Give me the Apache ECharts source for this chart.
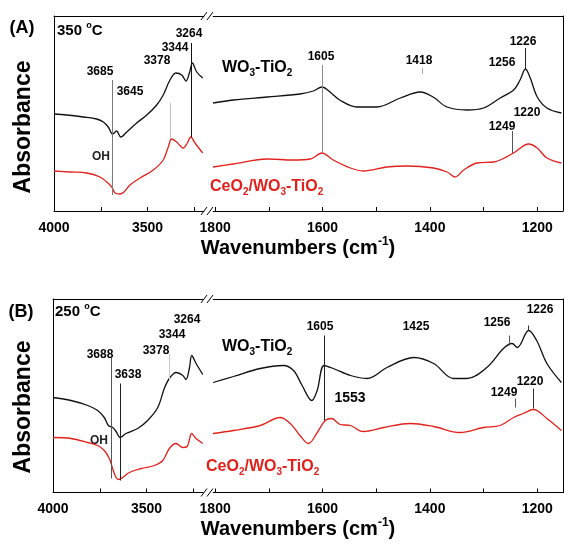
<!DOCTYPE html>
<html><head><meta charset="utf-8">
<script src="https://cdn.jsdelivr.net/npm/echarts@6/dist/echarts.min.js"></script>
<style>html,body{margin:0;padding:0;background:#fff}#c{width:564px;height:546px}</style>
</head><body><div id="c"></div>
<script>
// ---- data (wavenumber in cm-1, absorbance in arbitrary units) ----
const aLeftBlackX = [4000,3932,3843,3772,3736,3710,3686,3665,3643,3611,3558,3504,3451,3416,3380,3348,3317,3294,3276,3260,3237,3205];
const aLeftBlackY = [0.97,0.96,0.94,0.92,0.89,0.84,0.77,0.80,0.74,0.79,0.88,0.96,1.06,1.16,1.31,1.38,1.36,1.30,1.38,1.48,1.39,1.33];
const aLeftRedX = [4000,3914,3825,3754,3718,3691,3674,3647,3626,3594,3540,3469,3416,3389,3371,3344,3309,3287,3269,3246,3205];
const aLeftRedY = [0.40,0.39,0.38,0.34,0.29,0.24,0.18,0.17,0.19,0.26,0.33,0.41,0.51,0.64,0.72,0.69,0.63,0.68,0.74,0.68,0.58];
const aRightBlackX = [1804,1766,1703,1642,1617,1601,1586,1568,1536,1499,1455,1418,1394,1368,1331,1300,1269,1244,1232,1222,1213,1200,1182,1155];
const aRightBlackY = [1.08,1.11,1.14,1.17,1.20,1.24,1.19,1.11,1.04,1.04,1.13,1.19,1.14,1.04,1.01,1.03,1.13,1.21,1.31,1.42,1.33,1.14,1.03,0.98];
const aRightRedX = [1804,1766,1703,1655,1623,1601,1580,1548,1524,1480,1443,1393,1368,1353,1337,1312,1281,1269,1244,1216,1200,1182,1155];
const aRightRedY = [0.44,0.47,0.52,0.51,0.52,0.58,0.51,0.43,0.40,0.44,0.45,0.43,0.39,0.34,0.41,0.48,0.49,0.51,0.58,0.67,0.63,0.53,0.48];

const bLeftBlackX = [4000,3904,3814,3761,3726,3704,3681,3663,3640,3610,3547,3494,3440,3405,3378,3342,3306,3289,3271,3258,3235,3199];
const bLeftBlackY = [0.95,0.92,0.87,0.82,0.75,0.67,0.65,0.61,0.55,0.59,0.64,0.72,0.85,1.04,1.14,1.20,1.17,1.13,1.24,1.37,1.29,1.18];
const bLeftRedX = [4000,3904,3814,3761,3726,3699,3681,3663,3649,3627,3592,3529,3458,3413,3378,3342,3306,3283,3258,3235,3199];
const bLeftRedY = [0.55,0.54,0.50,0.47,0.42,0.34,0.24,0.15,0.13,0.15,0.20,0.24,0.27,0.32,0.44,0.49,0.45,0.46,0.59,0.54,0.49];
const bRightBlackX = [1804,1766,1716,1673,1654,1638,1620,1610,1597,1580,1548,1517,1480,1430,1393,1356,1331,1294,1263,1247,1237,1216,1201,1182,1155];
const bRightBlackY = [1.10,1.16,1.24,1.27,1.22,1.07,0.92,1.02,1.27,1.24,1.17,1.14,1.25,1.35,1.29,1.14,1.14,1.25,1.44,1.49,1.45,1.62,1.52,1.29,1.10];
const bRightRedX = [1804,1766,1716,1679,1660,1642,1626,1611,1595,1583,1567,1548,1524,1486,1437,1393,1344,1300,1269,1244,1226,1207,1182,1155];
const bRightRedY = [0.59,0.62,0.67,0.75,0.69,0.57,0.49,0.59,0.72,0.74,0.68,0.67,0.61,0.65,0.69,0.66,0.60,0.65,0.67,0.75,0.79,0.83,0.74,0.62];

// tick labels
const leftTickLabels = [4000, 3500];
const leftTicks = [3250, 3500, 3750, 4000];
const rightTickLabels = [1800, 1600, 1400, 1200];
const rightTicks = [1200, 1300, 1400, 1500, 1600, 1700, 1800];

// annotation guide lines: [wavenumber, yFrom, yTo]
const aLeftGuides = [[3686,1.31,0.16],[3380,1.08,0.72],[3264,1.68,0.74]];
const aRightGuides = [[1601,1.46,0.58],[1414,1.43,1.37],[1222,1.63,1.42],[1246,0.80,0.58]];
const bLeftGuides = [[3690,1.35,0.14],[3640,1.09,0.12],[3378,1.39,1.12]];
const bRightGuides = [[1596,1.57,0.72],[1253,1.57,1.47],[1216,1.67,1.62],[1241,0.94,0.85],[1207,1.04,0.84]];
const aLeftGuideColors = ['#7a7a7a','#c0c0c0','#111'];
const aRightGuideColors = ['#8a8a8a','#aaa','#222','#555'];
const bLeftGuideColors = ['#555','#222','#c8c8c8'];
const bRightGuideColors = ['#222','#555','#333','#555','#333'];

// ---- chart ----
const FONT = 'Arial, "Liberation Sans", sans-serif';
const BLACK = '#111', RED = '#e3211c';
const zip = (xs, ys) => xs.map((x, i) => [x, ys[i]]);
const grids = [
  {left: 54, top: 16, width: 150, height: 195},
  {left: 213, top: 16, width: 350, height: 195},
  {left: 53, top: 299, width: 150, height: 193.5},
  {left: 213, top: 299, width: 350, height: 193.5}
];
const ranges = [[3198, 4000], [1152, 1804], [3198, 4000], [1152, 1804]];
const ymax = [1.95, 1.95, 1.935, 1.935];

const xAxis = [], yAxis = [];
grids.forEach((g, i) => {
  const isLeft = i % 2 === 0;
  xAxis.push({
    type: 'value', gridIndex: i, position: 'bottom', inverse: true,
    min: ranges[i][0], max: ranges[i][1],
    axisLine: {show: true, lineStyle: {color: '#000', width: 1}},
    axisTick: {show: true, inside: true, length: 4, lineStyle: {color: '#000'}, customValues: isLeft ? leftTicks : rightTicks},
    axisLabel: {show: true, margin: 10, fontFamily: FONT, fontWeight: 'bold', fontSize: 14, color: '#000',
      customValues: isLeft ? leftTickLabels : rightTickLabels, formatter: v => String(v)},
    splitLine: {show: false}
  });
  xAxis.push({
    type: 'value', gridIndex: i, position: 'top', inverse: true,
    min: ranges[i][0], max: ranges[i][1],
    axisLine: {show: true, lineStyle: {color: '#000', width: 1}},
    axisTick: {show: false}, axisLabel: {show: false}, splitLine: {show: false}
  });
  yAxis.push({
    type: 'value', gridIndex: i, min: 0, max: ymax[i], position: isLeft ? 'left' : 'right',
    axisLine: {show: true, lineStyle: {color: '#000', width: 1}},
    axisTick: {show: false}, axisLabel: {show: false}, splitLine: {show: false}
  });
});

function guideLines(guides, colors) {
  return {
    silent: true, symbol: ['none', 'none'], label: {show: false},
    data: guides.map((g, k) => [
      {coord: [g[0], g[1]], lineStyle: {color: colors[k], width: 1, type: 'solid'}},
      {coord: [g[0], g[2]]}
    ])
  };
}
function line(gi, xs, ys, color, guides, colors) {
  const s = {
    type: 'line', xAxisIndex: gi * 2, yAxisIndex: gi, data: zip(xs, ys),
    showSymbol: false, smooth: 0.35, lineStyle: {color: color, width: 1.3}, itemStyle: {color: color},
    z: 3, animation: false
  };
  if (guides) s.markLine = guideLines(guides, colors);
  return s;
}
const series = [
  line(0, aLeftBlackX, aLeftBlackY, BLACK, aLeftGuides, aLeftGuideColors),
  line(0, aLeftRedX, aLeftRedY, RED),
  line(1, aRightBlackX, aRightBlackY, BLACK, aRightGuides, aRightGuideColors),
  line(1, aRightRedX, aRightRedY, RED),
  line(2, bLeftBlackX, bLeftBlackY, BLACK, bLeftGuides, bLeftGuideColors),
  line(2, bLeftRedX, bLeftRedY, RED),
  line(3, bRightBlackX, bRightBlackY, BLACK, bRightGuides, bRightGuideColors),
  line(3, bRightRedX, bRightRedY, RED)
];

// ---- text & decorations ----
const graphic = [];
function txt(x, y, text, size, fill, rot) {
  graphic.push({
    type: 'text', x: x, y: y, silent: true, rotation: rot || 0,
    style: {text: text, fontFamily: FONT, fontWeight: 'bold', fontSize: size, fill: fill || '#000', align: 'center', verticalAlign: 'middle'}
  });
}
function rich(x, y, text, rstyles, fill, align) {
  graphic.push({
    type: 'text', x: x, y: y, silent: true,
    style: {text: text, fontFamily: FONT, fontWeight: 'bold', fill: fill, align: align || 'left', verticalAlign: 'middle', rich: rstyles}
  });
}
function subStyles(fill) {
  return {
    b: {fontFamily: FONT, fontWeight: 'bold', fontSize: 16, fill: fill, lineHeight: 20},
    s: {fontFamily: FONT, fontWeight: 'bold', fontSize: 10, fill: fill, lineHeight: 10, verticalAlign: 'bottom'}
  };
}
function supStyles(size) {
  return {
    b: {fontFamily: FONT, fontWeight: 'bold', fontSize: size, fill: '#000', lineHeight: size + 4},
    u: {fontFamily: FONT, fontWeight: 'bold', fontSize: Math.round(size * 0.62), fill: '#000', lineHeight: Math.round(size * 0.62), verticalAlign: 'top'}
  };
}
// panel labels
txt(22, 28, '(A)', 18);
txt(21, 312, '(B)', 18);
rich(57, 31, '{b|350 }{u|o}{b|C}', supStyles(15), '#000');
rich(55, 312, '{b|250 }{u|o}{b|C}', supStyles(15), '#000');
// axis titles
txt(24, 127, 'Absorbance', 23, '#000', Math.PI / 2);
txt(24, 407, 'Absorbance', 23, '#000', Math.PI / 2);
rich(298, 248, '{b|Wavenumbers (cm}{u|-1}{b|)}', supStyles(20), '#000', 'center');
rich(298, 529, '{b|Wavenumbers (cm}{u|-1}{b|)}', supStyles(20), '#000', 'center');
// sample labels
rich(222, 68, '{b|WO}{s|3}{b|-TiO}{s|2}', subStyles('#000'), '#000');
rich(210, 187, '{b|CeO}{s|2}{b|/WO}{s|3}{b|-TiO}{s|2}', subStyles(RED), RED);
rich(222, 347, '{b|WO}{s|3}{b|-TiO}{s|2}', subStyles('#000'), '#000');
rich(206, 467, '{b|CeO}{s|2}{b|/WO}{s|3}{b|-TiO}{s|2}', subStyles(RED), RED);
// peak labels
const peakLabelsA = [['3685',100,72],['3645',130,92],['3378',157,61],['3344',175,48],['3264',189,34],
  ['1605',321,57],['1418',419,61],['1226',523,42],['1256',502,63],['1220',527,113],['1249',502,127]];
const peakLabelsB = [['3688',100,355],['3638',128,375],['3378',156,351],['3344',172,335],['3264',187,320],
  ['1605',320,327],['1425',416,327],['1256',497,323],['1226',540,310],['1249',504,393],['1220',530,382]];
peakLabelsA.concat(peakLabelsB).forEach(p => txt(p[1], p[2], p[0], 12));
txt(350, 398, '1553', 14);
txt(101, 157, 'OH', 12, '#222');
txt(99, 441, 'OH', 12, '#222');
// axis break marks
[16, 211, 299, 492.5].forEach(yy => {
  graphic.push({type: 'rect', silent: true, shape: {x: 204.5, y: yy - 1, width: 8, height: 2}, style: {fill: '#fff'}, z: 100});
  graphic.push({type: 'line', silent: true, shape: {x1: 201, y1: yy + 4, x2: 207, y2: yy - 4}, style: {stroke: '#000', lineWidth: 1}, z: 101});
  graphic.push({type: 'line', silent: true, shape: {x1: 207, y1: yy + 4, x2: 213, y2: yy - 4}, style: {stroke: '#000', lineWidth: 1}, z: 101});
});

const chart = echarts.init(document.getElementById('c'), null, {renderer: 'canvas'});
chart.setOption({
  animation: false, backgroundColor: '#fff',
  grid: grids, xAxis: xAxis, yAxis: yAxis, series: series, graphic: graphic
});
</script></body></html>
